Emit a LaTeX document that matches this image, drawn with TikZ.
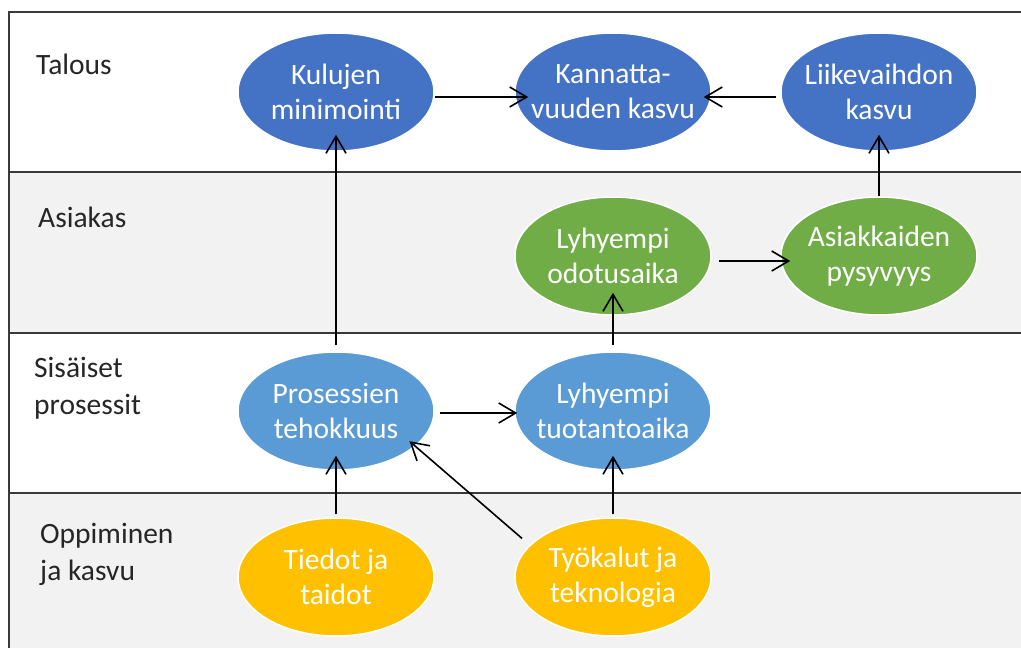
\documentclass[tikz,border=0pt]{standalone}
\usepackage{fontspec}
\setmainfont{Carlito}
\usetikzlibrary{shapes.geometric,arrows.meta}
\definecolor{bandgray}{HTML}{F2F2F2}
\definecolor{framegray}{HTML}{3A3A3A}
\definecolor{labtext}{HTML}{262626}
\definecolor{cdblue}{HTML}{4472C4}
\definecolor{cgreen}{HTML}{70AD47}
\definecolor{clblue}{HTML}{5B9BD5}
\definecolor{cyellow}{HTML}{FFC000}
\begin{document}
\begin{tikzpicture}[x=1pt,y=-1pt,
  frame/.style={draw=framegray,line width=1.8pt},
  lab/.style={anchor=west,align=left,inner sep=0pt,text=labtext,font=\fontsize{29.5}{37}\selectfont},
  ell/.style={ellipse,minimum width=196pt,minimum height=118pt,inner sep=-30pt,draw=white,line width=1.5pt,text=white,align=center,font=\fontsize{29.5}{35}\selectfont},
  conn/.style={-{Straight Barb[length=17pt,width=20pt]},line width=1.6pt,black}]
\useasboundingbox (0,0) rectangle (1021,648);
\fill[white] (0,0) rectangle (1021,648);
\fill[bandgray] (9,172) rectangle (1021,333);
\fill[bandgray] (9,493) rectangle (1021,648);
\draw[frame] (1021,12) -- (9,12) -- (9,648);
\draw[frame] (9,172) -- (1021,172);
\draw[frame] (9,333) -- (1021,333);
\draw[frame] (9,493) -- (1021,493);
% band labels
\node[lab] (ltal) at (36,64) {Talous};
\node[lab] (lasi) at (38,217) {Asiakas};
\node[lab] (lsis) at (34,388) {Sisäiset\\prosessit};
\node[lab] (lopp) at (40,554) {Oppiminen\\ja kasvu};
% ellipses
\node[ell,fill=cdblue] (kul) at (336,92) {Kulujen\\minimointi};
\node[ell,fill=cdblue] (kan) at (613,92) {Kannatta-\\vuuden kasvu};
\node[ell,fill=cdblue] (lii) at (879,92) {Liikevaihdon\\kasvu};
\node[ell,fill=cgreen] (ody) at (613,256) {Lyhyempi\\odotusaika};
\node[ell,fill=cgreen] (asi) at (879,256) {Asiakkaiden\\pysyvyys};
\node[ell,fill=clblue] (pro) at (336,411) {Prosessien\\tehokkuus};
\node[ell,fill=clblue] (tuo) at (613,411) {Lyhyempi\\tuotantoaika};
\node[ell,fill=cyellow] (tie) at (336,577) {Tiedot ja\\taidot};
\node[ell,fill=cyellow] (tyo) at (613,577) {Työkalut ja\\teknologia};
% connectors
\draw[conn,shorten >=-14pt] ([yshift=-5pt]kul.east) -- ([yshift=-5pt]kan.west);
\draw[conn,shorten <=4pt,shorten >=-8pt] ([yshift=-5pt]lii.west) -- ([yshift=-5pt]kan.east);
\draw[conn,shorten >=-17pt] (asi.north) -- (lii.south);
\draw[conn,shorten <=7pt,shorten >=-10pt] ([yshift=-5pt]ody.east) -- ([yshift=-5pt]asi.west);
\draw[conn,shorten <=6pt,shorten >=-23pt] (tuo.north) -- (ody.south);
\draw[conn,shorten <=6pt,shorten >=-17pt] (pro.north) -- (kul.south);
\draw[conn,shorten <=5pt,shorten >=-3pt] ([yshift=-2pt]pro.east) -- ([yshift=-2pt]tuo.west);
\draw[conn,shorten <=3pt,shorten >=-15pt] (tie.north) -- (pro.south);
\draw[conn,shorten <=10pt,shorten >=-8pt] (tyo.159) -- (pro.-24);
\draw[conn,shorten <=3pt,shorten >=-15pt] (tyo.north) -- (tuo.south);
\end{tikzpicture}
\end{document}
